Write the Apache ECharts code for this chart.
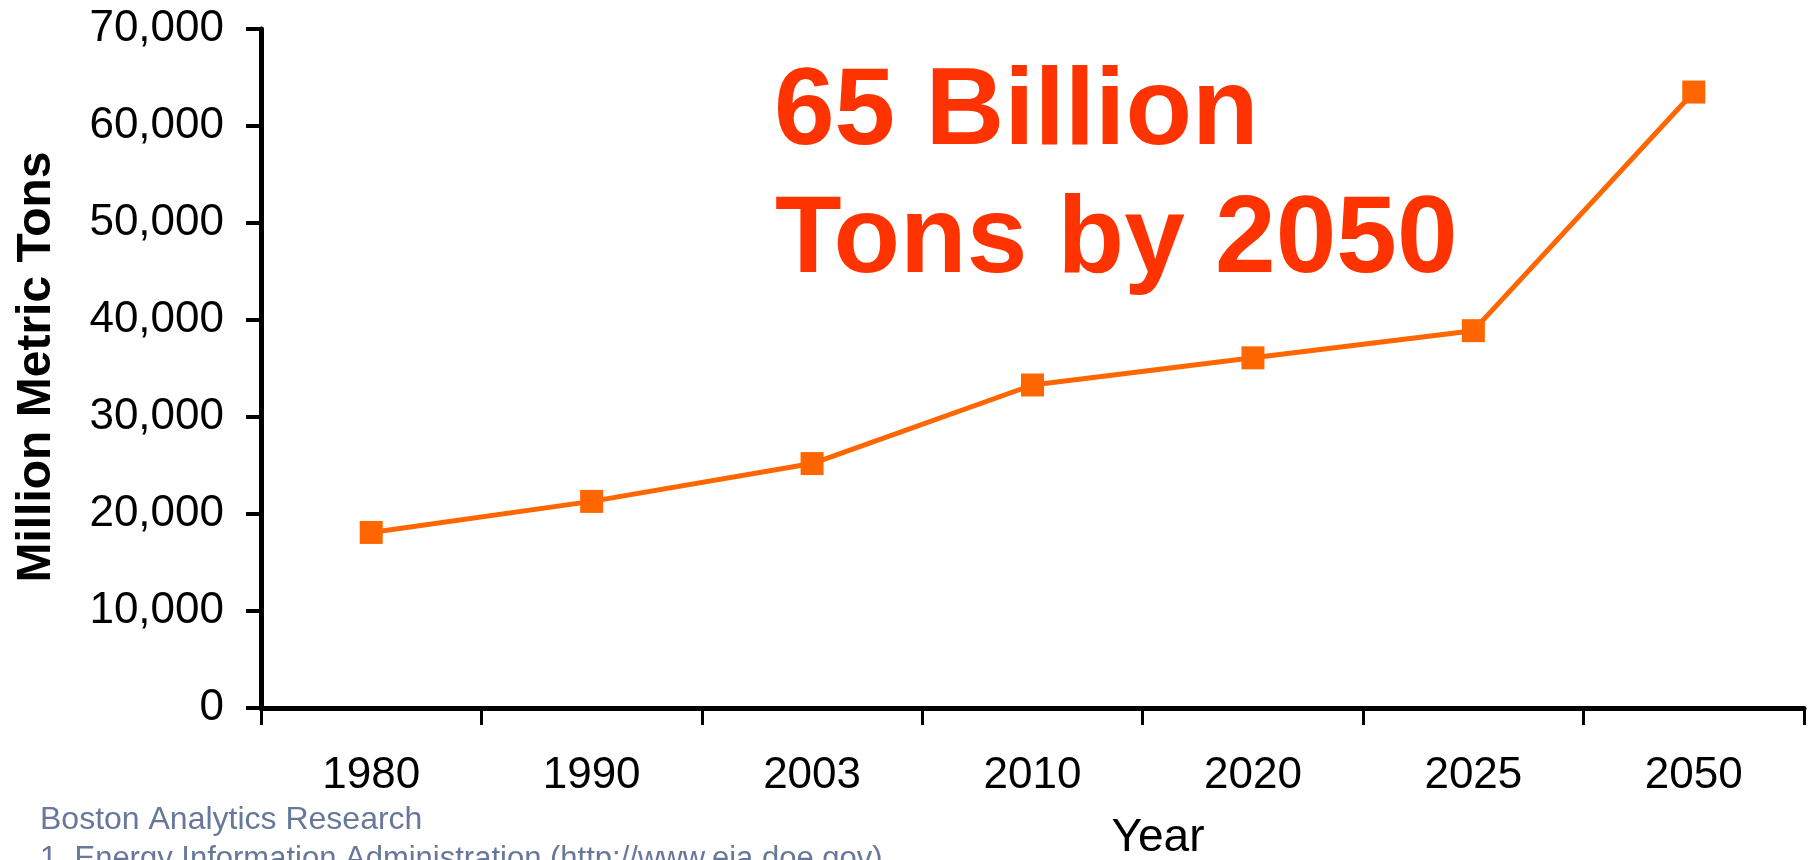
<!DOCTYPE html>
<html>
<head>
<meta charset="utf-8">
<script src="https://cdn.jsdelivr.net/npm/echarts@6/dist/echarts.min.js"></script>
<style>
html,body{margin:0;padding:0;background:#fff;}
#chart{width:1812px;height:860px;}
</style>
</head>
<body>
<div id="chart"></div>
<script>
const years = ['1980', '1990', '2003', '2010', '2020', '2025', '2050'];
const emissions = [18100, 21300, 25200, 33300, 36100, 38900, 63500];
const yTicks = [0, 10000, 20000, 30000, 40000, 50000, 60000, 70000];
const headline = ['65 Billion', 'Tons by 2050'];
const yTitle = 'Million Metric Tons';
const xTitle = 'Year';
const footnotes = ['Boston Analytics Research', '1. Energy Information Administration (http://www.eia.doe.gov)'];

const FONT = '"Liberation Sans", Arial, sans-serif';
const chart = echarts.init(document.getElementById('chart'), null, {renderer: 'canvas'});
chart.setOption({
  animation: false,
  backgroundColor: '#ffffff',
  grid: {left: 261, right: 8, top: 29, bottom: 152, containLabel: false},
  xAxis: {
    type: 'category',
    data: years,
    boundaryGap: true,
    axisLine: {lineStyle: {color: '#000', width: 5}},
    axisTick: {show: true, length: 17, inside: false, lineStyle: {color: '#000', width: 3}},
    axisLabel: {color: '#000', fontSize: 44, fontFamily: FONT, margin: 46},
    splitLine: {show: false}
  },
  yAxis: {
    type: 'value',
    min: yTicks[0],
    max: yTicks[yTicks.length - 1],
    interval: yTicks[1] - yTicks[0],
    axisLine: {show: true, lineStyle: {color: '#000', width: 5}},
    axisTick: {show: true, length: 15, lineStyle: {color: '#000', width: 4}},
    axisLabel: {color: '#000', fontSize: 44, fontFamily: FONT, margin: 37,
      formatter: v => v.toLocaleString('en-US')},
    splitLine: {show: false}
  },
  series: [{
    type: 'line',
    data: emissions,
    symbol: 'rect',
    symbolSize: 23,
    lineStyle: {color: '#FF6600', width: 5},
    itemStyle: {color: '#FF6600'}
  }],
  graphic: [
    {type: 'text', x: 774, y: 114, style: {text: headline[0], fill: '#FF3300', font: 'bold 109px ' + FONT, textAlign: 'left', textVerticalAlign: 'middle'}},
    {type: 'text', x: 775, y: 242, style: {text: headline[1], fill: '#FF3300', font: 'bold 109px ' + FONT, textAlign: 'left', textVerticalAlign: 'middle'}},
    {type: 'text', x: 37, y: 367, rotation: Math.PI / 2, style: {text: yTitle, fill: '#000', font: 'bold 48px ' + FONT, textAlign: 'center', textVerticalAlign: 'middle'}},
    {type: 'text', x: 1158, y: 838, style: {text: xTitle, fill: '#000', font: '46px ' + FONT, textAlign: 'center', textVerticalAlign: 'middle'}},
    {type: 'text', x: 40, y: 820, style: {text: footnotes[0], fill: '#67789A', font: '32px ' + FONT, textAlign: 'left', textVerticalAlign: 'middle'}},
    {type: 'text', x: 40, y: 859, style: {text: footnotes[1], fill: '#67789A', font: '31px ' + FONT, textAlign: 'left', textVerticalAlign: 'middle'}}
  ]
});
</script>
</body>
</html>
